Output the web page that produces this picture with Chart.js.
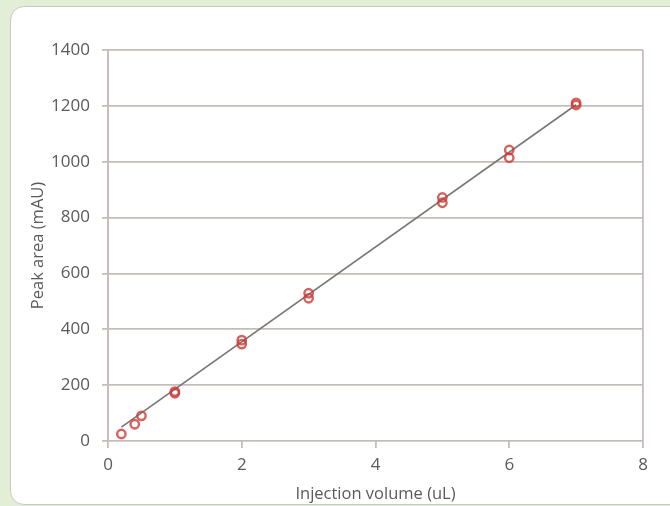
<!DOCTYPE html>
<html>
<head>
<meta charset="utf-8">
<script src="https://cdn.jsdelivr.net/npm/chart.js@4"></script>
<style>
  html, body { margin: 0; padding: 0; }
  body { width: 670px; height: 506px; background: #e2eed5; position: relative; overflow: hidden; }
  #panel {
    position: absolute; left: 10px; top: 6px; width: 680px; height: 497px;
    background: #fff; border: 1.5px solid #c6c9c3; border-radius: 14px;
  }
  #wrap { position: absolute; left: 0; top: 0; width: 670px; height: 506px; }
</style>
</head>
<body>
<div id="panel"></div>
<div id="wrap"><canvas id="chart" width="670" height="506"></canvas></div>
<script>
"use strict";

// injection volume (uL) and peak area (mAU)
const volumes = [0.2, 0.4, 0.5, 1, 1, 2, 2, 3, 3, 5, 5, 6, 6, 7, 7];
const peakAreas = [25, 60, 90, 171, 177, 361, 347, 529, 511, 872, 853, 1042, 1014, 1211, 1203];

// fitted line end points
const trendX = [0.2, 7];
const trendY = [50, 1204];

const xTicks = [0, 2, 4, 6, 8];
const yTicks = [0, 200, 400, 600, 800, 1000, 1200, 1400];

const gridColor = "#c5bdba";
const textColor = "#5a5a5a";
const tickFont = { family: "Open Sans", size: 17 };
const titleFont = { family: "Open Sans", size: 16.5 };

const points = volumes.map((v, i) => ({ x: v, y: peakAreas[i] }));
const trend = trendX.map((v, i) => ({ x: v, y: trendY[i] }));

const ctx = document.getElementById("chart").getContext("2d");
const chart = new Chart(ctx, {
  type: "scatter",
  data: {
    datasets: [
      {
        label: "Fit",
        type: "line",
        data: trend,
        borderColor: "#7b7574",
        borderWidth: 1.6,
        pointRadius: 0,
        fill: false,
        order: 2,
      },
      {
        label: "Peak area",
        data: points,
        borderColor: "rgba(200, 60, 55, 0.8)",
        backgroundColor: "rgba(0,0,0,0)",
        borderWidth: 2.4,
        pointRadius: 4.2,
        order: 1,
      },
    ],
  },
  options: {
    responsive: false,
    animation: false,
    layout: { padding: { left: 0, top: 50, right: 27, bottom: 0 } },
    plugins: { legend: { display: false }, tooltip: { enabled: false } },
    scales: {
      x: {
        type: "linear",
        min: 0,
        max: 8,
        afterBuildTicks: (scale) => {
          scale.ticks = xTicks.map((v) => ({ value: v }));
        },
        afterFit: (scale) => {
          scale.height = 65;
        },
        grid: {
          color: (c) => (c.tick && (c.tick.value === 0 || c.tick.value === 8) ? gridColor : "rgba(0,0,0,0)"),
          tickColor: gridColor,
          lineWidth: 1.8,
          tickLength: 7,
        },
        border: { display: false },
        ticks: {
          color: textColor,
          font: tickFont,
          padding: 7,
          maxRotation: 0,
          callback: (v) => String(v),
        },
        title: {
          display: true,
          text: "Injection volume (uL)",
          color: textColor,
          font: titleFont,
          padding: { top: 0, bottom: 2 },
        },
      },
      y: {
        type: "linear",
        min: 0,
        max: 1400,
        afterBuildTicks: (scale) => {
          scale.ticks = yTicks.map((v) => ({ value: v }));
        },
        afterFit: (scale) => {
          scale.width = 108;
        },
        grid: {
          color: gridColor,
          tickColor: gridColor,
          lineWidth: 1.8,
          tickLength: 6,
        },
        border: { display: true, color: gridColor, width: 1.8 },
        ticks: {
          color: textColor,
          font: tickFont,
          padding: 12,
          callback: (v) => String(v),
        },
        title: {
          display: true,
          text: "Peak area (mAU)",
          color: textColor,
          font: titleFont,
          padding: { top: 28, bottom: 0 },
        },
      },
    },
  },
});
</script>
</body>
</html>
